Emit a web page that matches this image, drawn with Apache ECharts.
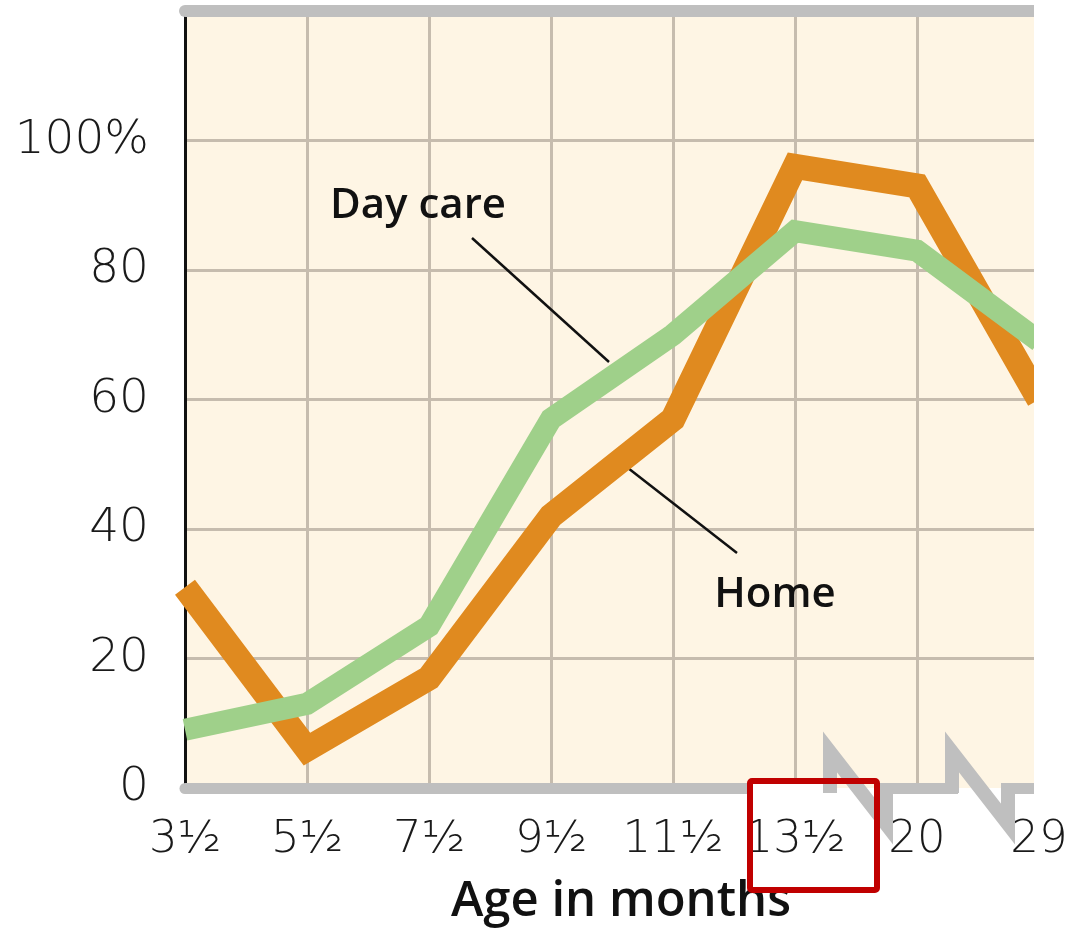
<!DOCTYPE html>
<html>
<head>
<meta charset="utf-8">
<script src="https://cdn.jsdelivr.net/npm/echarts@6/dist/echarts.min.js"></script>
<style>
  html, body { margin: 0; padding: 0; background: #fff; }
  #chart { width: 1080px; height: 932px; }
</style>
</head>
<body>
<div id="chart"></div>
<script>
// age categories (months) and % values
const ages = ['3½', '5½', '7½', '9½', '11½', '13½', '20', '29'];
const home = [31, 6, 17, 42, 57, 96, 93, 60];
const dayCare = [9, 13, 25, 57, 70, 86, 83, 69];
const breaksAfter = ['13½', '20'];
const boxedAge = '13½';

const tickFont = 'DejaVu Sans';
const noteFont = 'Open Sans';
const plotBg = '#FEF5E4';
const barGray = '#BFBFBF';

let myChart = echarts.init(document.getElementById('chart'));

let option = {
    animation: false,
    backgroundColor: '#fff',
    grid: {
        show: true,
        left: 185,
        right: 41,
        top: 11,
        bottom: 144,
        outerBoundsMode: 'none',
        containLabel: false,
        backgroundColor: plotBg,
        borderWidth: 0
    },
    xAxis: [{
        type: 'category',
        data: ages,
        boundaryGap: false,
        position: 'bottom',
        axisLine: { lineStyle: { color: barGray, width: 11 } },
        axisTick: { show: false },
        axisLabel: {
            interval: 0,
            hideOverlap: false,
            margin: 30,
            fontFamily: tickFont,
            fontWeight: 300,
            fontSize: 45,
            color: '#1a1a1a'
        },
        splitLine: { show: true, interval: 0, lineStyle: { color: '#C6BCAE', width: 3 } },
        name: 'Age in months',
        nameLocation: 'middle',
        nameGap: 90,
        nameTextStyle: {
            fontFamily: noteFont,
            fontWeight: 600,
            fontSize: 49,
            color: '#111',
            padding: [0, 0, 0, 18]
        }
    }, {
        type: 'category',
        data: ages,
        boundaryGap: false,
        position: 'top',
        axisLine: { lineStyle: { color: barGray, width: 12 } },
        axisTick: { show: false },
        axisLabel: { show: false },
        splitLine: { show: false }
    }],
    yAxis: {
        type: 'value',
        min: 0,
        max: 120,
        interval: 20,
        axisLine: { show: true, lineStyle: { color: '#111', width: 3 } },
        axisTick: { show: false },
        axisLabel: {
            margin: 36,
            fontFamily: tickFont,
            fontWeight: 300,
            fontSize: 47,
            color: '#1a1a1a',
            formatter: function (v) {
                if (v === 120) return '';
                return v === 100 ? '100%' : String(v);
            }
        },
        splitLine: { show: true, lineStyle: { color: '#C6BCAE', width: 3 } }
    },
    series: [{
        name: 'Home',
        type: 'line',
        data: home,
        symbol: 'none',
        z: 3,
        lineStyle: { color: '#E08A1F', width: 25, join: 'miter', cap: 'butt' }
    }, {
        name: 'Day care',
        type: 'line',
        data: dayCare,
        symbol: 'none',
        z: 4,
        lineStyle: { color: '#9FD08A', width: 22, join: 'miter', cap: 'butt' }
    }]
};

myChart.setOption(option);

// decorations placed from the axes: break marks, red box, text notes
let y0 = myChart.convertToPixel({ yAxisIndex: 0 }, 0);
let lastX = myChart.convertToPixel({ xAxisIndex: 0 }, ages[ages.length - 1]);
let graphics = [];

// plot is cut a little before the last category
graphics.push({
    type: 'rect', z: 50,
    shape: { x: lastX - 5, y: 0, width: 1080 - lastX + 5, height: y0 + 7 },
    style: { fill: '#fff' }
});

// red box round one label; the axis bar is hidden inside it
let boxX = myChart.convertToPixel({ xAxisIndex: 0 }, boxedAge);
graphics.push({
    type: 'rect', z: 55,
    shape: { x: boxX - 45, y: y0 - 6, width: 127, height: 14 },
    style: { fill: '#fff' }
});

// axis break marks: the bar is cut and an N-shaped zigzag drawn
breaksAfter.forEach(function (a) {
    let tx = myChart.convertToPixel({ xAxisIndex: 0 }, a) + 28;
    graphics.push({
        type: 'rect', z: 56,
        shape: { x: tx + 13, y: y0 - 6, width: 44, height: 6 },
        style: { fill: plotBg }
    });
    graphics.push({
        type: 'rect', z: 56,
        shape: { x: tx + 13, y: y0, width: 44, height: 7 },
        style: { fill: '#fff' }
    });
    graphics.push({
        type: 'polyline', z: 60,
        shape: {
            points: [
                [tx + 7, y0 + 5], [tx + 7, y0 - 36],
                [tx + 63, y0 + 36], [tx + 63, y0 - 5]
            ]
        },
        style: { fill: null, stroke: barGray, lineWidth: 14, lineJoin: 'miter', miterLimit: 10 }
    });
});

graphics.push({
    type: 'rect', z: 70,
    shape: { x: boxX - 45, y: y0 - 7, width: 127, height: 109, r: 2 },
    style: { fill: 'none', stroke: '#C00000', lineWidth: 6 }
});

// labels with leader lines
graphics.push({
    type: 'text', z: 40, x: 418, y: 206,
    style: {
        text: 'Day care', fontFamily: noteFont, fontWeight: 600, fontSize: 42,
        fill: '#111', align: 'center', verticalAlign: 'middle'
    }
});
graphics.push({
    type: 'line', z: 1,
    shape: { x1: 472, y1: 238, x2: 609, y2: 362 },
    style: { stroke: '#111', lineWidth: 2.5 }
});
graphics.push({
    type: 'text', z: 40, x: 775, y: 595,
    style: {
        text: 'Home', fontFamily: noteFont, fontWeight: 600, fontSize: 42,
        fill: '#111', align: 'center', verticalAlign: 'middle'
    }
});
graphics.push({
    type: 'line', z: 1,
    shape: { x1: 628, y1: 468, x2: 737, y2: 553 },
    style: { stroke: '#111', lineWidth: 2.5 }
});

myChart.setOption({ graphic: graphics });
</script>
</body>
</html>
